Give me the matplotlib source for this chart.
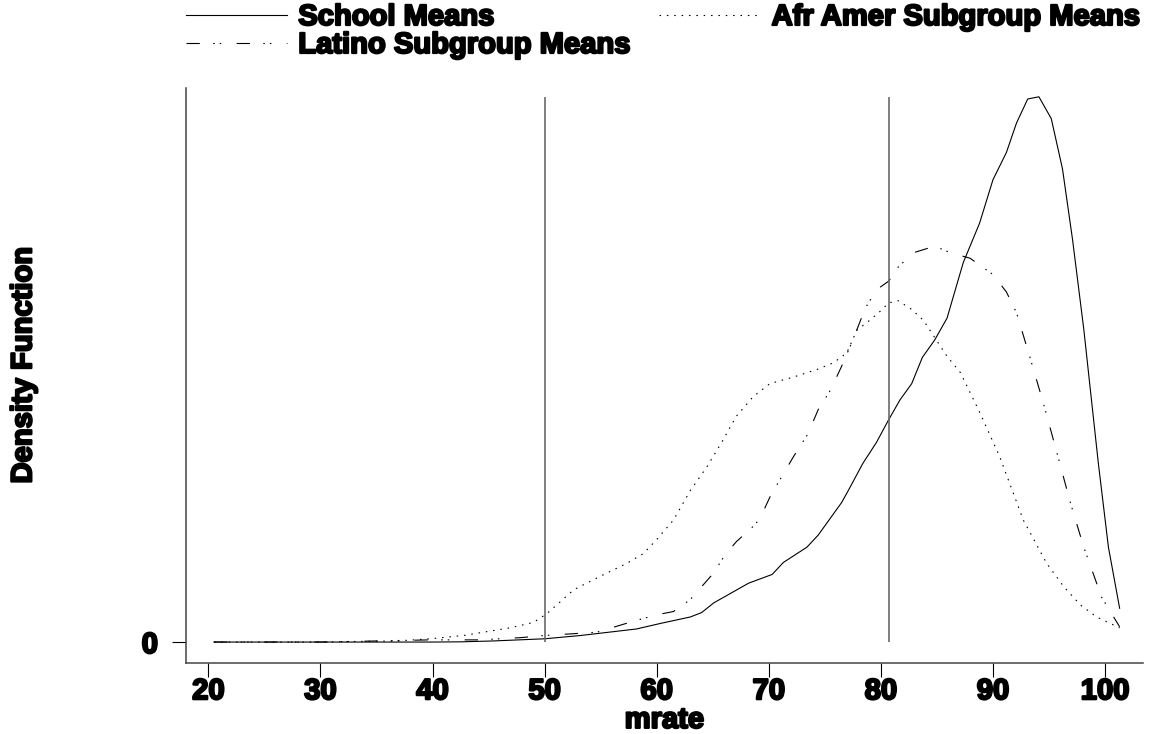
import numpy as np
import matplotlib.pyplot as plt
import matplotlib.patheffects as pe
from matplotlib.lines import Line2D

plt.rcParams['font.family'] = ['Liberation Sans', 'DejaVu Sans']
plt.rcParams['font.weight'] = 'bold'
plt.rcParams['axes.labelweight'] = 'bold'
plt.rcParams['lines.scale_dashes'] = False

# kernel density estimates of mrate
school_x = [20.5, 25, 30, 35, 40, 42.5, 45.4, 50.0, 53.2, 58.2, 60.3, 63.0, 64.0, 65.1,
            68.2, 70.3, 71.3, 73.4, 74.4, 76.5, 77.2, 78.4, 79.6, 80.7, 81.7, 82.75,
            83.7, 84.8, 85.9, 87.35, 88.8, 90.0, 91.2, 92.1, 93.1, 94.1, 95.2, 96.2,
            97.1, 98.1, 99.4, 100.3, 101.3]
school_y = [0, 0, 0, 0, 0, 0.00002, 0.0001, 0.0003, 0.0006, 0.0012, 0.0017, 0.0023,
            0.0027, 0.0036, 0.0054, 0.0062, 0.0073, 0.0087, 0.0098, 0.0128, 0.0141,
            0.0164, 0.0183, 0.0204, 0.0222, 0.0237, 0.0261, 0.0277, 0.0297, 0.0348,
            0.0384, 0.0424, 0.0449, 0.0476, 0.0498, 0.0500, 0.0480, 0.0434, 0.0369,
            0.0287, 0.0164, 0.0087, 0.0031]

latino_x = [20.5, 25, 30, 35, 39.8, 44.2, 47.8, 50.0, 54.65, 57.9, 60.0, 61.5, 63.0,
            65.05, 66.1, 67.1, 68.6, 69.2, 70.1, 71.0, 72.2, 73.5, 74.4, 75.5, 76.5,
            77.5, 78.6, 79.6, 80.7, 81.55, 82.9, 84.8, 86.2, 87.95, 90.0, 91.2, 92.1,
            93.3, 94.5, 95.8, 96.9, 98.1, 99.7, 101.3]
latino_y = [0, 0, 0, 0.0001, 0.0002, 0.0002, 0.0004, 0.0006, 0.0009, 0.0019, 0.0025,
            0.0028, 0.0039, 0.0063, 0.0080, 0.0092, 0.0106, 0.0113, 0.0133, 0.0149,
            0.0170, 0.0191, 0.0213, 0.0231, 0.0253, 0.0277, 0.0306, 0.0323, 0.0331,
            0.0344, 0.0357, 0.0363, 0.0357, 0.0352, 0.0337, 0.0321, 0.0302, 0.0261,
            0.0219, 0.0170, 0.0128, 0.0087, 0.0041, 0.0014]

afr_x = [20.5, 25, 30, 33, 36.8, 39.8, 42.75, 45.7, 46.9, 49.0, 50.2, 52.6, 54.9, 57.3,
         58.8, 60.0, 61.5, 63.0, 64.5, 65.9, 67.1, 68.6, 70.1, 72.2, 74.3, 75.75,
         76.95, 77.85, 79.0, 79.9, 80.7, 81.55, 82.75, 83.8, 85.9, 87.1, 88.8, 90.6,
         92.7, 94.8, 96.3, 97.8, 99.25, 101.3]
afr_y = [0, 0, 0, 0.00005, 0.0001, 0.0003, 0.0006, 0.0011, 0.0013, 0.0018, 0.0026,
         0.0048, 0.0060, 0.0072, 0.0081, 0.0094, 0.0112, 0.0139, 0.0161, 0.0185,
         0.0207, 0.0225, 0.0237, 0.0243, 0.0250, 0.0256, 0.0265, 0.0286, 0.0295,
         0.0303, 0.0311, 0.0313, 0.0305, 0.0295, 0.0262, 0.0247, 0.0211, 0.0170,
         0.0112, 0.0072, 0.0051, 0.0034, 0.0023, 0.0013]

cutoffs = [50, 80.7]
line_top = 0.05

solid = '-'
dotted = (0, (1.1, 4.2))
dashdot = (0, (9.6, 9.6, 1.1, 3.6, 1.1, 11.1))

fig = plt.figure(figsize=(11.58, 7.34), dpi=100)
ax = fig.add_axes([0.1604, 0.0963, 0.987 - 0.1604, 0.880 - 0.0963])

lw = 0.8
ax.plot(school_x, school_y, color='black', lw=lw, ls=solid)
ax.plot(afr_x, afr_y, color='black', lw=lw, ls=dotted)
ax.plot(latino_x, latino_y, color='black', lw=lw, ls=dashdot)
ax.vlines(cutoffs, 0, line_top, color='#6a6a6a', lw=1.2)

ax.set_xlim(17.98, 103.38)
ax.set_ylim(-0.00195, 0.0508)
ax.set_xticks([20, 30, 40, 50, 60, 70, 80, 90, 100])
ax.set_yticks([0])
ax.set_yticklabels(['0'])

for s in ['top', 'right']:
    ax.spines[s].set_visible(False)
for s in ['left', 'bottom']:
    ax.spines[s].set_color('#444444')
    ax.spines[s].set_linewidth(1.1)

ax.tick_params(axis='x', length=10, width=0.8, pad=0, labelsize=21)
ax.tick_params(axis='y', length=10, width=0.8, pad=10, labelsize=21)

ax.set_xlabel('mrate', fontsize=21, fontweight='bold')
ax.set_ylabel('Density Function', fontsize=21, fontweight='bold')
ax.xaxis.set_label_coords(0.5, -0.074)
ax.yaxis.set_label_coords(-0.155, 0.518)

handles = [Line2D([], [], color='black', lw=lw, ls=solid),
           Line2D([], [], color='black', lw=lw, ls=dashdot),
           Line2D([], [], color='black', lw=lw, ls=dotted)]
labels = ['School Means', 'Latino Subgroup Means', 'Afr Amer Subgroup Means']
leg = fig.legend(handles, labels, ncol=2, loc='upper left',
                 bbox_to_anchor=(186 / 1158, 1 - 3 / 734), frameon=False,
                 fontsize=21, handlelength=3.45, handletextpad=0.4,
                 columnspacing=1.0, labelspacing=0.0, borderpad=0,
                 borderaxespad=0)

# heavier strokes on all text
heavy = [pe.withStroke(linewidth=1.6, foreground='black')]
for t in (ax.get_xticklabels() + ax.get_yticklabels() + leg.get_texts()
          + [ax.xaxis.label, ax.yaxis.label]):
    t.set_path_effects(heavy)

fig.savefig('out.png', dpi=100)
